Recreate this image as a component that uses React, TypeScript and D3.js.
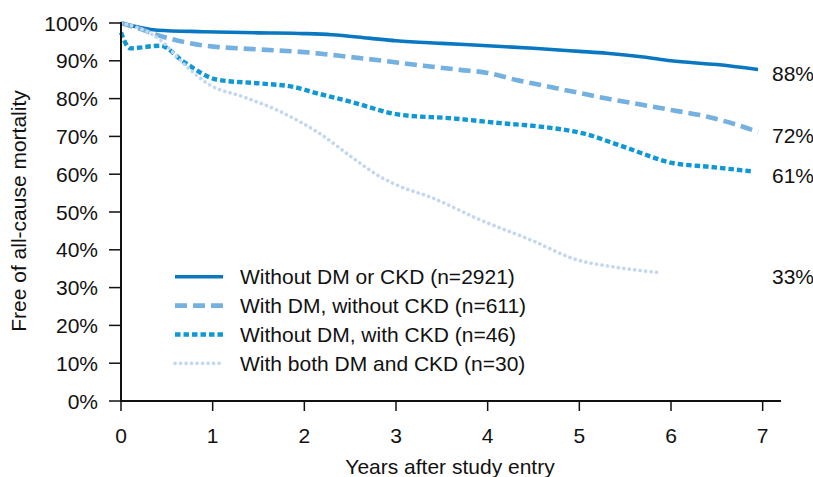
import React from "react";
import * as d3 from "d3";

type Pt = [number, number];

// Kaplan–Meier style survival estimates (years, % free of all-cause mortality)
const noDmNoCkd: Pt[] = [
  [0, 100], [0.4, 98.1], [0.9, 97.7], [1.5, 97.4], [2.0, 97.2], [2.3, 96.9],
  [2.7, 96.0], [3.0, 95.3], [3.5, 94.6], [4.0, 94.0], [4.5, 93.3], [5.0, 92.5],
  [5.3, 92.0], [5.7, 91.0], [6.0, 90.0], [6.5, 89.0], [6.95, 87.7],
];
const dmNoCkd: Pt[] = [
  [0, 100], [0.2, 98.5], [0.4, 96.8], [0.86, 94.2], [1.5, 93.0], [2.0, 92.3],
  [2.5, 91.0], [2.9, 89.9], [3.3, 88.7], [3.7, 87.6], [4.0, 86.8], [4.3, 85.0],
  [4.6, 83.5], [5.0, 81.5], [5.3, 80.0], [5.7, 78.3], [6.0, 77.0], [6.4, 75.2],
  [6.7, 73.2], [6.95, 71.2],
];
const noDmCkd: Pt[] = [
  [0, 97.5], [0.1, 93.3], [0.43, 94.0], [0.68, 89.8], [1.05, 85.0], [1.52, 84.0],
  [1.88, 83.1], [2.14, 81.4], [2.5, 79.2], [3.05, 75.7], [3.6, 74.8], [4.14, 73.5],
  [4.57, 72.6], [5.04, 70.8], [5.48, 67.3], [6.03, 62.9], [6.4, 62.0], [6.9, 60.7],
];
const dmCkd: Pt[] = [
  [0, 100], [0.2, 98.6], [0.43, 95.5], [0.68, 89.3], [0.97, 83.6], [1.33, 80.5],
  [1.7, 77.0], [1.95, 73.9], [2.14, 71.2], [2.53, 64.3], [2.83, 59.3], [3.05, 56.7],
  [3.37, 54.0], [3.92, 47.9], [4.47, 42.6], [4.98, 37.3], [5.37, 35.5], [5.9, 33.9],
];

const seriesNames = [
  "Without DM or CKD (n=2921)",
  "With DM, without CKD (n=611)",
  "Without DM, with CKD (n=46)",
  "With both DM and CKD (n=30)",
];
const seriesData = [noDmNoCkd, dmNoCkd, noDmCkd, dmCkd];
const endLabels = ["88%", "72%", "61%", "33%"];
const xTicks = [0, 1, 2, 3, 4, 5, 6, 7];
const yTicks = [0, 10, 20, 30, 40, 50, 60, 70, 80, 90, 100];

const styles = [
  { color: "#0a78c1", width: 3.6, dash: "none", cap: "butt" },
  { color: "#74b0e0", width: 4.6, dash: "12 6", cap: "butt" },
  { color: "#1097d6", width: 4.4, dash: "5.5 3", cap: "butt" },
  { color: "#c3d8ef", width: 3.6, dash: "0.1 5.4", cap: "round" },
];

const W = 813;
const H = 477;
const FONT = "'Liberation Sans', Arial, Helvetica, sans-serif";
const FS = 21;

export default function App() {
  const x = d3.scaleLinear().domain([0, 7.2]).range([121, 781]);
  const y = d3.scaleLinear().domain([0, 100]).range([401, 23]);
  const line = d3
    .line<Pt>()
    .x((d) => x(d[0]))
    .y((d) => y(d[1]))
    .curve(d3.curveMonotoneX);

  const legendX0 = 175;
  const legendX1 = 223;
  const legendY0 = 276.7;
  const legendStep = 28.9;

  return (
    <svg
      width={W}
      height={H}
      style={{ position: "absolute", left: 0, top: 0, background: "#fff" }}
      fontFamily={FONT}
    >
      {/* curves */}
      {seriesData.map((d, i) => (
        <path
          key={i}
          d={line(d) ?? ""}
          fill="none"
          stroke={styles[i].color}
          strokeWidth={styles[i].width}
          strokeDasharray={styles[i].dash}
          strokeLinecap={styles[i].cap as any}
          strokeLinejoin="round"
        />
      ))}

      {/* axes */}
      <line x1={x(0)} x2={x(0)} y1={y(100) - 1} y2={y(0) + 1} stroke="#111" strokeWidth={2} />
      <line x1={x(0) - 1} x2={x(7.2)} y1={y(0)} y2={y(0)} stroke="#111" strokeWidth={2} />
      {yTicks.map((t) => (
        <g key={t}>
          <line x1={x(0) - 12} x2={x(0)} y1={y(t)} y2={y(t)} stroke="#111" strokeWidth={1.5} />
          <text x={98} y={y(t)} dy="0.36em" textAnchor="end" fontSize={FS} fill="#111">
            {t}%
          </text>
        </g>
      ))}
      {xTicks.map((t) => (
        <g key={t}>
          <line x1={x(t)} x2={x(t)} y1={y(0)} y2={y(0) + 10} stroke="#111" strokeWidth={1.5} />
          <text x={x(t)} y={435} dy="0.36em" textAnchor="middle" fontSize={FS} fill="#111">
            {t}
          </text>
        </g>
      ))}
      <text x={450} y={466} dy="0.36em" textAnchor="middle" fontSize={FS} fill="#111">
        Years after study entry
      </text>
      <text
        transform={`translate(18,211) rotate(-90)`}
        dy="0.36em"
        textAnchor="middle"
        fontSize={FS}
        fill="#111"
      >
        Free of all-cause mortality
      </text>

      {/* end-of-curve labels */}
      {seriesData.map((d, i) => (
        <text
          key={i}
          x={772}
          y={y(d[d.length - 1][1]) + 4}
          dy="0.36em"
          fontSize={FS}
          fill="#111"
        >
          {endLabels[i]}
        </text>
      ))}

      {/* legend */}
      {seriesNames.map((n, i) => {
        const ly = legendY0 + i * legendStep;
        return (
          <g key={n}>
            <line
              x1={legendX0}
              x2={legendX1}
              y1={ly}
              y2={ly}
              stroke={styles[i].color}
              strokeWidth={styles[i].width}
              strokeDasharray={styles[i].dash}
              strokeLinecap={styles[i].cap as any}
            />
            <text x={240} y={ly} dy="0.36em" fontSize={FS} fill="#111">
              {n}
            </text>
          </g>
        );
      })}
    </svg>
  );
}
